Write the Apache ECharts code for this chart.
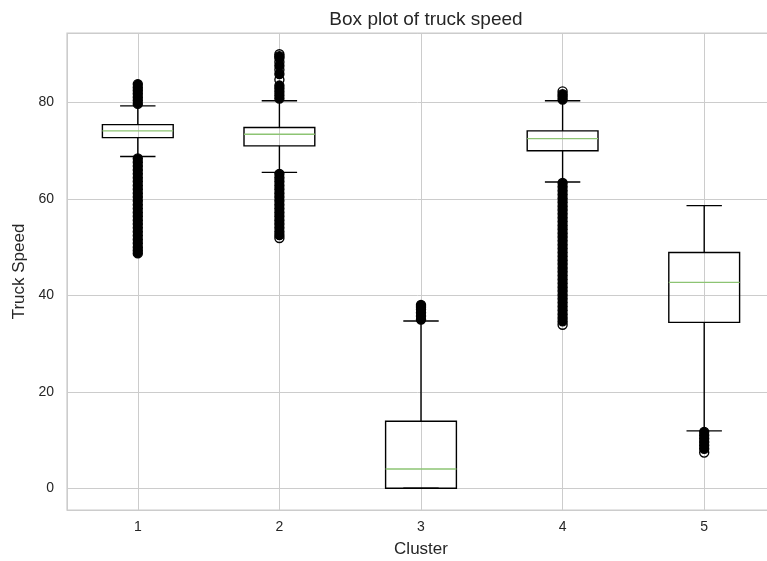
<!DOCTYPE html>
<html>
<head>
<meta charset="utf-8">
<script src="https://cdn.jsdelivr.net/npm/echarts@6/dist/echarts.min.js"></script>
<style>
  html, body { margin: 0; padding: 0; background: #ffffff; }
  #chart { width: 767px; height: 561px; }
</style>
</head>
<body>
<div id="chart"></div>
<script>
// Truck speed distribution per cluster
const clusters = [1, 2, 3, 4, 5];
const whiskerLow  = [68.8, 65.5, 0.0, 63.5, 11.9];
const quartile1   = [72.7, 71.0, 0.0, 70.0, 34.4];
const medians     = [74.1, 73.4, 4.0, 72.5, 42.7];
const quartile3   = [75.4, 74.8, 13.9, 74.1, 48.9];
const whiskerHigh = [79.3, 80.35, 34.7, 80.35, 58.6];

// Outliers where the circles pile up into a solid column
const denseFliers = [
  [79.7, 80.4, 81.1, 81.8, 82.5, 83.1, 83.8,
   68.4, 67.6, 66.8, 66.0, 65.2, 64.4, 63.6, 62.8, 62.0, 61.2, 60.4, 59.6, 58.8, 58.0,
   57.2, 56.4, 55.6, 54.8, 54.0, 53.2, 52.4, 51.6, 50.8, 50.0, 49.3, 48.7],
  [80.8, 81.5, 82.2, 82.9, 83.5, 85.9, 87.6, 89.2, 89.6,
   65.2, 64.4, 63.6, 62.8, 62.0, 61.2, 60.4, 59.6, 58.8, 58.0, 57.2, 56.4, 55.6, 54.8,
   54.0, 53.2, 52.5],
  [35.0, 35.7, 36.4, 37.1, 37.6, 38.0],
  [80.6, 81.2, 81.7,
   63.3, 62.5, 61.7, 60.9, 60.1, 59.3, 58.5, 57.7, 56.9, 56.1, 55.3, 54.5, 53.7, 52.9,
   52.1, 51.3, 50.5, 49.7, 48.9, 48.1, 47.3, 46.5, 45.7, 44.9, 44.1, 43.3, 42.5, 41.7,
   40.9, 40.1, 39.3, 38.5, 37.7, 36.9, 36.1, 35.3, 34.6],
  [11.7, 11.0, 10.3, 9.6, 8.9, 8.2]
];
// Outliers that still show as separate open circles
const openFliers = [
  [],
  [84.7, 86.8, 88.4, 90.0, 51.9],
  [],
  [82.3, 33.9],
  [7.4]
];

const yTicks = [0, 20, 40, 60, 80];

const boxData = clusters.map((c, i) =>
  [c, whiskerLow[i], quartile1[i], medians[i], quartile3[i], whiskerHigh[i]]);
const densePoints = clusters.flatMap((c, i) => denseFliers[i].map(v => [c, v]));
const openPoints = clusters.flatMap((c, i) => openFliers[i].map(v => [c, v]));

const FONT = '"Liberation Sans", Arial, sans-serif';
const TEXT = '#262626';
const GRID = '#cccccc';

function renderBox(params, api) {
  const x = api.value(0);
  const lo = api.coord([x, api.value(1)]);
  const b1 = api.coord([x, api.value(2)]);
  const md = api.coord([x, api.value(3)]);
  const b3 = api.coord([x, api.value(4)]);
  const hi = api.coord([x, api.value(5)]);
  const boxW = api.size([0.5, 0])[0];
  const capW = boxW / 2;
  const cx = lo[0];
  const line = { stroke: '#000000', lineWidth: 1.4, fill: null };
  return {
    type: 'group',
    children: [
      { type: 'line', shape: { x1: cx, y1: b3[1], x2: cx, y2: hi[1] }, style: line },
      { type: 'line', shape: { x1: cx, y1: b1[1], x2: cx, y2: lo[1] }, style: line },
      { type: 'line', shape: { x1: cx - capW / 2, y1: hi[1], x2: cx + capW / 2, y2: hi[1] }, style: line },
      { type: 'line', shape: { x1: cx - capW / 2, y1: lo[1], x2: cx + capW / 2, y2: lo[1] }, style: line },
      { type: 'rect', shape: { x: cx - boxW / 2, y: b3[1], width: boxW, height: b1[1] - b3[1] },
        style: { stroke: '#000000', lineWidth: 1.4, fill: 'rgba(0,0,0,0)' } },
      { type: 'line', shape: { x1: cx - boxW / 2, y1: md[1], x2: cx + boxW / 2, y2: md[1] },
        style: { stroke: '#8dc473', lineWidth: 1.4 } }
    ]
  };
}

const chart = echarts.init(document.getElementById('chart'), null, { renderer: 'canvas' });
chart.setOption({
  animation: false,
  backgroundColor: '#ffffff',
  title: {
    text: 'Box plot of truck speed',
    left: 421,
    textAlign: 'center',
    top: 5,
    textStyle: { fontFamily: FONT, fontSize: 19, fontWeight: 'normal', color: TEXT }
  },
  grid: {
    left: 67, top: 33, width: 708, height: 477,
    outerBoundsMode: 'none',
    containLabel: false,
    show: true, borderColor: GRID, borderWidth: 1.25, backgroundColor: '#ffffff'
  },
  xAxis: {
    type: 'value',
    min: 0.5, max: 5.5, splitNumber: 5,
    name: 'Cluster',
    nameLocation: 'middle',
    nameGap: 31,
    nameTextStyle: { fontFamily: FONT, fontSize: 17, color: TEXT },
    axisLine: { show: false },
    axisTick: { show: false },
    axisLabel: {
      margin: 10, fontFamily: FONT, fontSize: 14, color: TEXT,
      showMinLabel: false, showMaxLabel: false,
      formatter: v => (clusters.includes(v) ? String(v) : '')
    },
    splitLine: { show: true, lineStyle: { color: GRID, width: 1 } }
  },
  yAxis: {
    type: 'value',
    min: -4.5, max: 94.4, splitNumber: 5,
    name: 'Truck Speed',
    nameLocation: 'middle',
    nameGap: 35,
    nameTextStyle: { fontFamily: FONT, fontSize: 17, color: TEXT },
    axisLine: { show: false },
    axisTick: { show: false },
    axisLabel: {
      margin: 13, fontFamily: FONT, fontSize: 14, color: TEXT,
      showMinLabel: false, showMaxLabel: false,
      formatter: v => (yTicks.includes(v) ? String(v) : '')
    },
    splitLine: { show: true, lineStyle: { color: GRID, width: 1 } }
  },
  series: [
    {
      type: 'custom',
      renderItem: renderBox,
      data: boxData,
      encode: { x: 0, y: [1, 2, 3, 4, 5] },
      z: 2
    },
    {
      type: 'scatter',
      data: densePoints,
      symbol: 'circle',
      symbolSize: 9,
      itemStyle: { color: '#000000', borderColor: '#000000', borderWidth: 1.4, opacity: 1 },
      z: 3
    },
    {
      type: 'scatter',
      data: openPoints,
      symbol: 'circle',
      symbolSize: 9,
      itemStyle: { color: 'rgba(0,0,0,0)', borderColor: '#000000', borderWidth: 1.4, opacity: 1 },
      z: 4
    }
  ]
});
</script>
</body>
</html>
